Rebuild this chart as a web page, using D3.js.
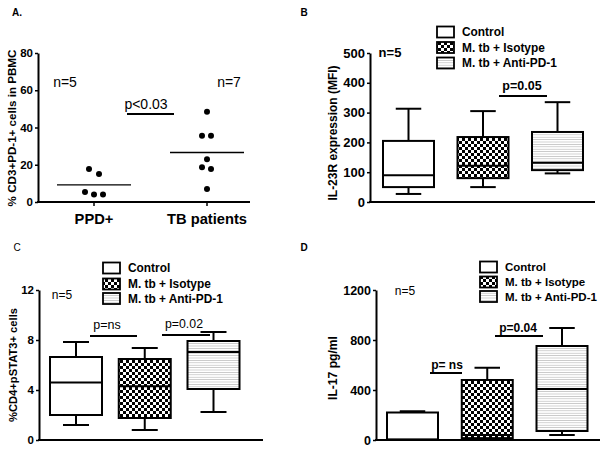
<!DOCTYPE html>
<html><head><meta charset="utf-8">
<script src="https://cdn.jsdelivr.net/npm/d3@7"></script>
<style>
body{margin:0;background:#fff;}
svg{display:block;font-family:"Liberation Sans",Arial,sans-serif;}
</style></head>
<body><svg id="c" width="603" height="456"></svg>
<script>
// ---------- data ----------
const aCategories = ["PPD+", "TB patients"];
const aPPD = [17.7, 15, 5.4, 4, 4];
const aTB = [48.4, 35.6, 35.6, 23, 18.7, 17.7, 7];
const aTicks = [0, 20, 40, 60, 80];

const groups = ["Control", "M. tb + Isotype", "M. tb + Anti-PD-1"];
// [min, q1, median, q3, max]
const bControl = [27, 50, 90, 205, 313];
const bIsotype = [50, 80, 122, 218, 305];
const bAntiPD1 = [96, 107, 132, 235, 335];
const bTicks = [0, 100, 200, 300, 400, 500];

const cControl = [1.2, 2.0, 4.6, 6.64, 7.84];
const cIsotype = [0.8, 1.76, 4.3, 6.48, 7.36];
const cAntiPD1 = [2.24, 4.08, 7.04, 7.92, 8.64];
const cTicks = [0, 4, 8, 12];

const dControl = [0, 2, 5, 220, 230];
const dIsotype = [5, 15, 40, 480, 578];
const dAntiPD1 = [40, 72, 408, 752, 896];
const dTicks = [0, 400, 800, 1200];

// ---------- drawing ----------
const svg = d3.select("#c");
const F = '"Liberation Sans",Arial,sans-serif';
const defs = svg.append("defs");
const chk = defs.append("pattern").attr("id","chk").attr("patternUnits","userSpaceOnUse")
  .attr("width",6).attr("height",6);
chk.append("rect").attr("width",6).attr("height",6).attr("fill","#fff");
chk.append("rect").attr("width",3).attr("height",3).attr("fill","#000");
chk.append("rect").attr("x",3).attr("y",3).attr("width",3).attr("height",3).attr("fill","#000");
const hl = defs.append("pattern").attr("id","hl").attr("patternUnits","userSpaceOnUse")
  .attr("width",6).attr("height",2.4);
hl.append("rect").attr("width",6).attr("height",2.4).attr("fill","#fff");
hl.append("rect").attr("width",6).attr("height",0.8).attr("fill","#c4c4c4");
const fills = ["#fff","url(#chk)","url(#hl)"];

function fit(sel, target){
  const len = sel.node().getComputedTextLength();
  const fs = parseFloat(sel.attr("font-size"));
  if (len > 0) sel.attr("font-size", (fs*target/len).toFixed(2));
  return sel;
}
function yAxis(g, y, x0, ticks, fs){
  const ax = g.append("g").attr("transform",`translate(${x0},0)`)
    .call(d3.axisLeft(y).tickValues(ticks).tickFormat(d3.format("d")).tickSize(3).tickSizeOuter(0).tickPadding(2));
  ax.select(".domain").attr("stroke","#000").attr("stroke-width",2);
  ax.selectAll(".tick line").attr("stroke","#000").attr("stroke-width",1.5);
  ax.selectAll(".tick text").attr("font-family",F).attr("font-weight","bold")
    .attr("font-size",fs).attr("fill","#000");
  return ax;
}
function xLine(g, x0, x1, y0){
  g.append("line").attr("x1",x0-1).attr("x2",x1).attr("y1",y0).attr("y2",y0)
    .attr("stroke","#000").attr("stroke-width",2.2);
}
function text(g, x, y, s, fs, bold, anchor){
  return g.append("text").attr("x",x).attr("y",y).text(s).attr("font-family",F)
    .attr("font-size",fs).attr("font-weight",bold?"bold":"normal")
    .attr("text-anchor",anchor||"middle").attr("fill","#000");
}
function ytitle(g, x, yc, s, target){
  const t = g.append("text").attr("transform",`translate(${x},${yc}) rotate(-90)`).attr("dy","0.35em")
    .attr("text-anchor","middle").attr("font-family",F).attr("font-weight","bold")
    .attr("font-size",11).text(s);
  fit(t, target);
}
function sigLine(g, x0, x1, yy){
  g.append("line").attr("x1",x0).attr("x2",x1).attr("y1",yy).attr("y2",yy)
    .attr("stroke","#000").attr("stroke-width",2);
}
function boxes(g, x, y, data, bw){
  data.forEach((d,i)=>{
    const cx = x(groups[i]);
    const [mn,q1,md,q3,mx] = d;
    const gg = g.append("g");
    gg.append("line").attr("x1",cx).attr("x2",cx).attr("y1",y(q3)).attr("y2",y(mx)).attr("stroke","#000").attr("stroke-width",2);
    gg.append("line").attr("x1",cx).attr("x2",cx).attr("y1",y(q1)).attr("y2",y(mn)).attr("stroke","#000").attr("stroke-width",2);
    gg.append("line").attr("x1",cx-bw/4).attr("x2",cx+bw/4).attr("y1",y(mx)).attr("y2",y(mx)).attr("stroke","#000").attr("stroke-width",2);
    gg.append("line").attr("x1",cx-bw/4).attr("x2",cx+bw/4).attr("y1",y(mn)).attr("y2",y(mn)).attr("stroke","#000").attr("stroke-width",2);
    gg.append("rect").attr("x",cx-bw/2).attr("y",y(q3)).attr("width",bw).attr("height",y(q1)-y(q3))
      .attr("fill",fills[i]).attr("stroke","#000").attr("stroke-width",2);
    gg.append("line").attr("x1",cx-bw/2).attr("x2",cx+bw/2).attr("y1",y(md)).attr("y2",y(md)).attr("stroke","#000").attr("stroke-width",2);
  });
}
function legend(g, x0, ys, fs, target){
  const labels = [];
  groups.forEach((name,i)=>{
    g.append("rect").attr("x",x0).attr("y",ys[i]-5.5).attr("width",17).attr("height",11)
      .attr("fill",fills[i]).attr("stroke","#000").attr("stroke-width",1.8);
    labels.push(text(g, x0+25, ys[i]+0.35*fs, name, fs, true, "start"));
  });
  fit(labels[2], target);
  const nfs = labels[2].attr("font-size");
  labels.forEach(l=>l.attr("font-size", nfs));
}

// ---- Panel A ----
{
  const g = svg.append("g");
  const y = d3.scaleLinear().domain([0,80]).range([202,53]);
  const x = d3.scalePoint().domain(aCategories).range([94,207]);
  yAxis(g, y, 38, aTicks, 11.5);
  xLine(g, 38, 250, 202);
  const catLabels = [];
  aCategories.forEach((c,i)=>{
    g.append("line").attr("x1",x(c)).attr("x2",x(c)).attr("y1",202).attr("y2",206).attr("stroke","#000").attr("stroke-width",1.5);
    catLabels.push(text(g, x(c), 224, c, 14, true));
  });
  fit(catLabels[1], 80);
  catLabels[0].attr("font-size", catLabels[1].attr("font-size"));
  const jit = [[-5,5,-9,0,9],[0,-5,4,0,-5,4,0]];
  [aPPD,aTB].forEach((vals,k)=>{
    const cx = x(aCategories[k]);
    vals.forEach((v,i)=>{
      g.append("circle").attr("cx",cx+jit[k][i]).attr("cy",y(v)).attr("r",3).attr("fill","#000");
    });
    const m = d3.mean(vals);
    g.append("line").attr("x1",cx-37).attr("x2",cx+37).attr("y1",y(m)).attr("y2",y(m)).attr("stroke","#000").attr("stroke-width",1.3);
  });
  text(g, 65, 87, "n=5", 14, false);
  text(g, 229, 87, "n=7", 14, false);
  text(g, 146, 109, "p<0.03", 14, false);
  sigLine(g, 127, 174, 114);
  ytitle(g, 12, 128, "% CD3+PD-1+ cells in PBMC", 157);
  text(g, 17, 16, "A.", 10, true, "middle");
}
// ---- Panel B ----
{
  const g = svg.append("g");
  const y = d3.scaleLinear().domain([0,500]).range([202,53]);
  const x = d3.scalePoint().domain(groups).range([408.5,557.5]);
  yAxis(g, y, 370, bTicks, 13);
  xLine(g, 370, 595, 202);
  boxes(g, x, y, [bControl,bIsotype,bAntiPD1], 51);
  legend(g, 437, [32,47.5,63], 11.5, 95);
  text(g, 390, 57, "n=5", 13, true);
  text(g, 522, 90, "p=0.05", 12.5, true);
  sigLine(g, 499, 547, 96);
  ytitle(g, 333, 133, "IL-23R expression (MFI)", 135);
  text(g, 304, 16, "B", 10, true);
}
// ---- Panel C ----
{
  const g = svg.append("g");
  const y = d3.scaleLinear().domain([0,12]).range([440,290]);
  const x = d3.scalePoint().domain(groups).range([76,213.5]);
  yAxis(g, y, 39, cTicks, 11.5);
  xLine(g, 39, 263, 440);
  boxes(g, x, y, [cControl,cIsotype,cAntiPD1], 52);
  legend(g, 103, [268,284,298.5], 12, 95);
  text(g, 62, 299, "n=5", 12, false);
  text(g, 107, 329, "p=ns", 12.5, false);
  sigLine(g, 90, 137, 336);
  text(g, 184, 328, "p=0.02", 12.3, false);
  sigLine(g, 162, 210, 335);
  ytitle(g, 13, 365, "%CD4+pSTAT3+ cells", 114);
  text(g, 17, 251, "C", 10, false);
}
// ---- Panel D ----
{
  const g = svg.append("g");
  const y = d3.scaleLinear().domain([0,1200]).range([440,290]);
  const x = d3.scalePoint().domain(groups).range([412.5,562]);
  yAxis(g, y, 376, dTicks, 12.5);
  xLine(g, 376, 600, 440);
  boxes(g, x, y, [dControl,dIsotype,dAntiPD1], 51);
  legend(g, 480, [267,282,296.5], 12, 92);
  text(g, 405, 295, "n=5", 12, false);
  text(g, 447, 369, "p= ns", 12, true);
  sigLine(g, 430, 462, 373);
  text(g, 518, 332, "p=0.04", 12, true);
  sigLine(g, 495, 543, 336);
  ytitle(g, 333, 368, "IL-17 pg/ml", 64);
  text(g, 304, 251, "D", 10, true);
}
</script></body></html>
